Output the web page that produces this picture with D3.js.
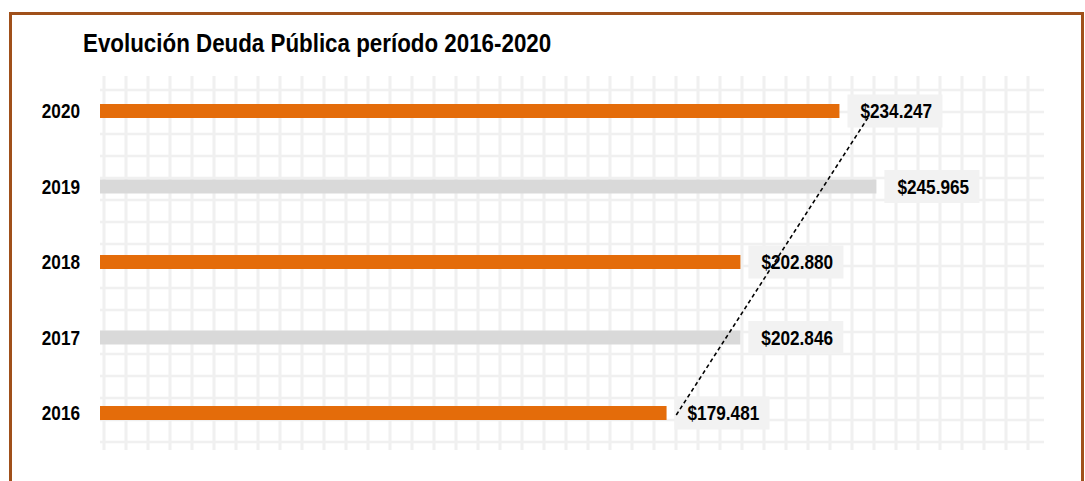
<!DOCTYPE html>
<html>
<head>
<meta charset="utf-8">
<script src="https://cdn.jsdelivr.net/npm/d3@7"></script>
<style>
  html, body { margin: 0; padding: 0; background: #fff; }
  svg { display: block; }
  text { font-family: "Liberation Sans Narrow", "Arial Narrow", "Liberation Sans", Arial, sans-serif; font-weight: bold; fill: #000; }
</style>
</head>
<body>
<svg id="chart" width="1085" height="481"></svg>
<script>
// Public debt by year (millions of pesos)
const years = ["2020", "2019", "2018", "2017", "2016"];
const values = [234247, 245965, 202880, 202846, 179481];
const valueLabels = ["$234.247", "$245.965", "$202.880", "$202.846", "$179.481"];
const barColors = ["#e46c0a", "#d9d9d9", "#e46c0a", "#d9d9d9", "#e46c0a"];
const title = "Evolución Deuda Pública período 2016-2020";

// condensed look for all labels
const NARROW = 0.86;
const at = (px, py) => `translate(${px},${py}) scale(${NARROW},1)`;

const svg = d3.select("#chart");

// outer frame
svg.append("rect")
  .attr("x", 10.5).attr("y", 13.5)
  .attr("width", 1072).attr("height", 500)
  .attr("fill", "#fff")
  .attr("stroke", "#a0501a").attr("stroke-width", 3);

svg.append("text")
  .attr("transform", at(83, 52))
  .attr("font-size", 26)
  .text(title);

const x = d3.scaleLinear().domain([0, 300000]).range([100, 1047]);
const y = d3.scalePoint().domain(years).range([111, 413]);

// plot area background lattice
const grid = svg.append("g");
grid.selectAll("line.h")
  .data(d3.range(90, 443, 22))
  .join("line")
  .attr("x1", 100).attr("x2", 1044)
  .attr("y1", d => d).attr("y2", d => d)
  .attr("stroke", "#f0f0f0").attr("stroke-width", 2.5);
grid.selectAll("line.v")
  .data(d3.range(104, 1030, 22))
  .join("line")
  .attr("y1", 76).attr("y2", 450)
  .attr("x1", d => d).attr("x2", d => d)
  .attr("stroke", "#f0f0f0").attr("stroke-width", 3);

const rows = years.map((yr, i) => ({ year: yr, value: values[i], label: valueLabels[i], color: barColors[i] }));

// bars
svg.append("g").selectAll("rect")
  .data(rows)
  .join("rect")
  .attr("x", x(0))
  .attr("y", d => y(d.year) - 7)
  .attr("width", d => x(d.value) - x(0))
  .attr("height", 14)
  .attr("fill", d => d.color);

// category labels
svg.append("g").selectAll("text")
  .data(rows)
  .join("text")
  .attr("transform", d => at(80, y(d.year)))
  .attr("dy", "0.35em")
  .attr("text-anchor", "end")
  .attr("font-size", 20)
  .text(d => d.year);

// value labels with boxes
const lab = svg.append("g").selectAll("g")
  .data(rows)
  .join("g")
  .attr("transform", d => `translate(${x(d.value) + 8},${y(d.year)})`);
lab.append("rect")
  .attr("x", 0).attr("y", -16.5)
  .attr("width", 95).attr("height", 33)
  .attr("fill", "#f2f2f2");
lab.append("text")
  .attr("transform", at(13, 0))
  .attr("dy", "0.35em")
  .attr("font-size", 20)
  .text(d => d.label);

// linear trend of the yearly values (2016 -> 2020)
const chron = rows.slice().reverse();
const n = chron.length;
const mx = d3.mean(chron, (d, i) => i);
const my = d3.mean(chron, d => d.value);
const slope = d3.sum(chron, (d, i) => (i - mx) * (d.value - my)) / d3.sum(chron, (d, i) => (i - mx) * (i - mx));
const icpt = my - slope * mx;
const trend = chron.map((d, i) => ({ year: d.year, value: icpt + slope * i }));
const first = trend[0], last = trend[n - 1];

svg.append("line")
  .attr("x1", x(first.value)).attr("y1", y(first.year) + 2)
  .attr("x2", x(last.value)).attr("y2", y(last.year) + 5)
  .attr("stroke", "#000").attr("stroke-width", 1.6)
  .attr("stroke-dasharray", "4,3");
</script>
</body>
</html>
